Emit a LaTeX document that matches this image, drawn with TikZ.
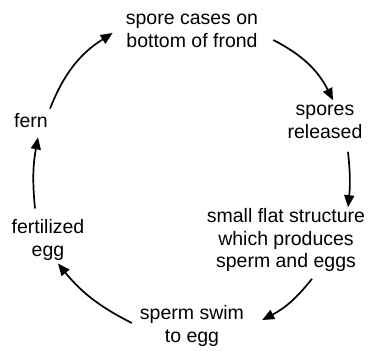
\documentclass[tikz,border=0pt]{standalone}
\usepackage{fontspec}
\setmainfont{Liberation Sans}
\usetikzlibrary{arrows.meta}
\begin{document}
\begin{tikzpicture}[x=1pt,y=-1pt,
  lbl/.style={align=center,font=\fontsize{19.5}{22.5}\selectfont,inner sep=0pt},
  cyc/.style={line width=1.7pt,-{Triangle[length=12pt,width=10pt]}}]
\useasboundingbox (0,0) rectangle (370,351);
\node[lbl] (cases) at (192,31) {spore cases on\\bottom of frond};
\node[lbl] (spores) at (325,122) {spores\\released};
\node[lbl] (flat) at (286,240) {small flat structure\\which produces\\sperm and eggs};
\node[lbl] (swim) at (192,326) {sperm swim\\to egg};
\node[lbl] (fert) at (48,240) {fertilized\\egg};
\node[lbl] (fern) at (31,121) {fern};
\draw[cyc] ([shift={(2,-5)}]fern.north east) to[bend left=18] ([shift={(-13,2)}]cases.west);
\draw[cyc] ([shift={(15,9)}]cases.east) to[bend left=18] ([shift={(8,-5)}]spores.north);
\draw[cyc] ([shift={(23,13)}]spores.south) to[bend left=6] ([shift={(62,-1)}]flat.north);
\draw[cyc] ([shift={(26,7)}]flat.south) to[bend left=12] ([shift={(18,-6)}]swim.east);
\draw[cyc] ([shift={(-8,-3)}]swim.west) to[bend left=12] ([shift={(10,3)}]fert.south);
\draw[cyc] ([shift={(-13,-11)}]fert.north) to[bend left=8] ([shift={(7,9)}]fern.south);
\end{tikzpicture}
\end{document}
